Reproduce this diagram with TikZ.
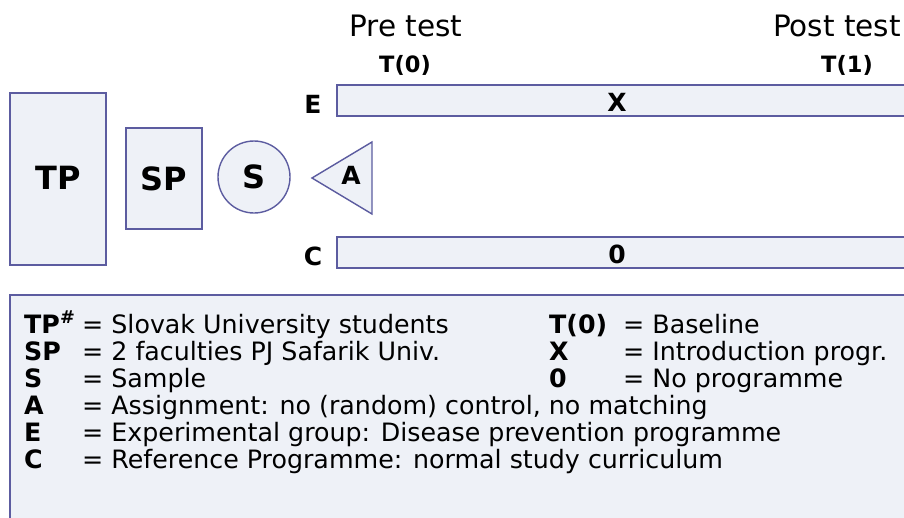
\documentclass[tikz,border=0pt]{standalone}
\usepackage{fontspec}
\setmainfont{DejaVu Sans}
\definecolor{boxfill}{RGB}{238,241,247}
\definecolor{boxline}{RGB}{92,92,160}
\begin{document}
\begin{tikzpicture}[x=1pt,y=-1pt,
  shp/.style={draw=boxline, fill=boxfill, line width=1.4pt, inner sep=0pt},
  big/.style={font=\bfseries\fontsize{32}{36}\selectfont},
  lbl/.style={font=\bfseries\fontsize{25}{28}\selectfont},
  head/.style={font=\fontsize{29.5}{34}\selectfont},
  tlab/.style={font=\bfseries\fontsize{22.5}{26}\selectfont, anchor=base},
  lg/.style={font=\fontsize{25.3}{27}\selectfont, anchor=base west, inner sep=0pt},
  lgb/.style={font=\bfseries\fontsize{25.3}{27}\selectfont, anchor=base west, inner sep=0pt}]
\useasboundingbox (0,0) rectangle (904,517);
\fill[white] (0,0) rectangle (904,517);
% bars
\draw[shp] (337,85) rectangle (915,116);
\draw[shp] (337,237) rectangle (915,268);
% population boxes
\node[shp, big, minimum width=96pt, minimum height=172pt] (TP) at (58,179) {\raisebox{2pt}{TP}};
\node[shp, big, minimum width=76pt, minimum height=101pt] (SP) at (164,178.5) {SP};
\node[shp, big, circle, minimum size=72pt] (S) at (254,177) {S};
\coordinate (tA) at (312,178);
\coordinate (tB) at (372,142);
\coordinate (tC) at (372,214);
\draw[shp] (tA) -- (tB) -- (tC) -- cycle;
\node[font=\bfseries\fontsize{25}{28}\selectfont] (A) at (351,175) {A};
% labels
\node[lbl] (E) at (313,104) {E};
\node[lbl] (C) at (313,256) {C};
\node[lbl] (X) at (617,102) {X};
\node[lbl] (O) at (617,254) {0};
\node[head] (pre) at (406,26) {Pre test};
\node[tlab] (t0) at (405,72) {T(0)};
\node[head] (post) at (837,26) {Post test};
\node[tlab] (t1) at (847,72) {T(1)};
% legend
\draw[draw=boxline, fill=boxfill, line width=1.4pt] (10,295) rectangle (915,530);
\node[lgb] (l1) at (24,333) {TP\textsuperscript{\#}};
\node[lgb] (l2) at (24,360) {SP};
\node[lgb] (l3) at (24,387) {S};
\node[lgb] (l4) at (24,414) {A};
\node[lgb] (l5) at (24,441) {E};
\node[lgb] (l6) at (24,468) {C};
\node[lg] (d1) at (82,333) {= Slovak University students};
\node[lg] (d2) at (82,360) {= 2 faculties PJ Safarik Univ.};
\node[lg] (d3) at (82,387) {= Sample};
\node[lg] (d4) at (82,414) {= Assignment: no (random) control, no matching};
\node[lg] (d5) at (82,441) {= Experimental group: Disease prevention programme};
\node[lg] (d6) at (82,468) {= Reference Programme: normal study curriculum};
\node[lgb] (r1) at (549,333) {T(0)};
\node[lgb] (r2) at (549,360) {X};
\node[lgb] (r3) at (549,387) {0};
\node[lg] (e1) at (623,333) {= Baseline};
\node[lg] (e2) at (623,360) {= Introduction progr.};
\node[lg] (e3) at (623,387) {= No programme};
\end{tikzpicture}
\end{document}
